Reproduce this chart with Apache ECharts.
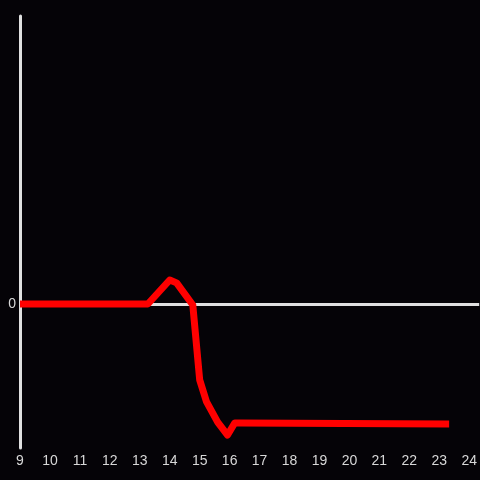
<!DOCTYPE html>
<html>
<head>
<meta charset="utf-8">
<script src="https://cdn.jsdelivr.net/npm/echarts@6/dist/echarts.min.js"></script>
<style>
  html, body { margin: 0; padding: 0; background: #050307; }
  #chart { width: 480px; height: 480px; }
</style>
</head>
<body>
<div id="chart"></div>
<script>
// hour of day vs value
const hours = [9, 13.27, 14.0, 14.23, 14.77, 15.0, 15.23, 15.6, 15.93, 16.17, 16.33, 23.33]
const values = [0, 0, 0.5, 0.44, -0.02, -1.58, -2.04, -2.46, -2.73, -2.48, -2.48, -2.5]

const chart = echarts.init(document.getElementById('chart'))
chart.setOption({
  backgroundColor: '#050307',
  animation: false,
  grid: { left: 20, right: 0, top: 16, bottom: 32 },
  xAxis: {
    type: 'value',
    min: 9,
    max: 24.333,
    interval: 1,
    axisLine: { show: false, onZero: false },
    axisTick: { show: false },
    splitLine: { show: false },
    axisLabel: {
      color: '#d8d8d8',
      fontSize: 14,
      margin: 6,
      showMaxLabel: false,
      formatter: v => Number.isInteger(v) ? String(v) : ''
    }
  },
  yAxis: {
    type: 'value',
    min: -3,
    max: 6,
    interval: 3,
    axisLine: { show: true, onZero: false, lineStyle: { color: '#e0e0e0', width: 3 } },
    axisTick: { show: false },
    splitLine: { show: false },
    axisLabel: {
      color: '#d8d8d8',
      fontSize: 14,
      margin: 4,
      formatter: v => v === 0 ? '0' : ''
    }
  },
  series: [{
    type: 'line',
    data: hours.map((h, i) => [h, values[i]]),
    symbol: 'none',
    lineStyle: { color: '#ff0000', width: 7, join: 'round' },
    z: 3,
    markLine: {
      silent: true,
      symbol: 'none',
      label: { show: false },
      lineStyle: { color: '#e0e0e0', width: 3, type: 'solid' },
      data: [{ yAxis: 0 }],
      z: 1
    }
  }]
})
</script>
</body>
</html>
